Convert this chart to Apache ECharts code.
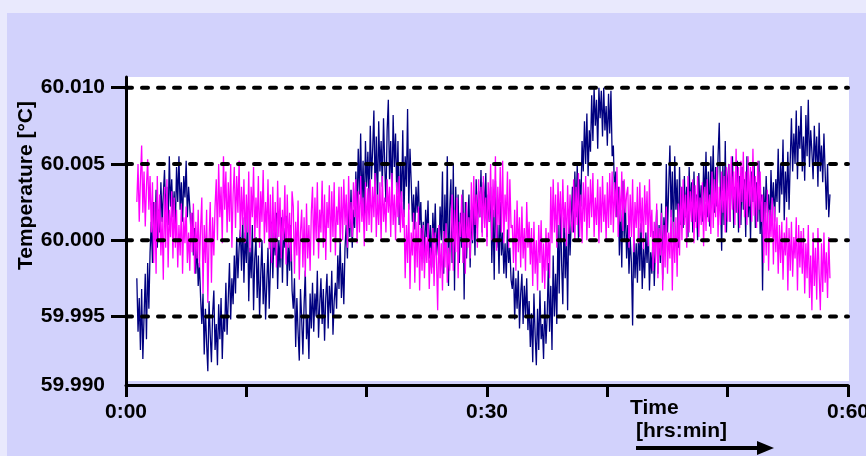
<!DOCTYPE html>
<html>
<head>
<meta charset="utf-8">
<script src="https://cdn.jsdelivr.net/npm/echarts@6/dist/echarts.min.js"></script>
<style>html,body{margin:0;padding:0;background:#e9e9fd;}#c{width:866px;height:456px;}</style>
</head>
<body>
<div id="c"></div>
<script>
// ---- data (time in minutes, temperature in °C) ----
const timeStart = 0.9;   // first sample time [min]
const timeStep = 0.1;    // sample spacing [min]
const xMin = 0, xMax = 60, xInterval = 10;
const xLabelTicks = [0, 30, 60];
const yGridValues = [59.995, 60.000, 60.005, 60.010];
const yLabelValues = [59.9905, 59.995, 60.000, 60.005, 60.010];
const yLabelText = ['59.990', '59.995', '60.000', '60.005', '60.010'];

const navy = [
59.9975,59.9940,59.9962,59.9928,59.9968,59.9922,59.9950,59.9978,59.9935,59.9985,59.9955,59.9992,
60.0012,59.9985,60.0025,60.0000,60.0033,59.9995,60.0020,60.0005,
60.0038,60.0012,60.0030,60.0046,60.0018,60.0035,60.0010,60.0055,60.0022,60.0040,60.0015,60.0032,60.0008,60.0048,60.0025,60.0055,60.0020,60.0038,60.0012,60.0042,60.0028,60.0052,60.0015,60.0035,
60.0022,60.0005,60.0018,59.9990,60.0008,59.9978,59.9998,59.9970,59.9985,59.9962,
59.9945,59.9965,59.9925,59.9955,59.9932,59.9914,59.9960,59.9938,59.9920,59.9952,59.9967,59.9928,59.9945,59.9918,59.9958,59.9935,59.9962,59.9922,59.9950,59.9940,
59.9972,59.9938,59.9962,59.9985,59.9948,59.9975,59.9958,59.9990,59.9965,60.0002,59.9975,59.9995,60.0007,59.9980,
60.0015,59.9972,60.0005,59.9985,60.0020,59.9960,59.9995,59.9975,60.0010,59.9954,59.9988,60.0002,
59.9962,59.9990,59.9950,59.9978,60.0000,59.9958,59.9985,59.9948,59.9972,59.9995,59.9955,59.9982,
60.0012,59.9975,60.0005,59.9990,60.0018,59.9968,60.0000,59.9982,60.0015,59.9972,60.0008,59.9995,60.0016,59.9970,59.9998,59.9980,60.0010,59.9967,
59.9955,59.9975,59.9930,59.9962,59.9940,59.9921,59.9968,59.9948,59.9925,59.9958,59.9980,59.9935,59.9950,59.9922,59.9965,59.9942,
59.9972,59.9940,59.9965,59.9950,59.9980,59.9936,59.9958,59.9975,59.9945,59.9968,59.9934,59.9962,59.9978,59.9942,59.9970,59.9952,59.9980,59.9938,59.9960,59.9972,
59.9955,59.9990,59.9968,60.0000,59.9962,59.9985,59.9958,59.9995,
60.0010,59.9988,60.0025,60.0002,60.0033,59.9995,60.0020,60.0008,
60.0045,60.0018,60.0060,60.0030,60.0070,60.0022,60.0052,60.0013,60.0065,60.0035,60.0058,60.0025,
60.0075,60.0040,60.0060,60.0085,60.0030,60.0068,60.0022,60.0078,60.0045,60.0065,
60.0035,60.0080,60.0050,60.0025,60.0072,60.0092,60.0040,60.0065,60.0028,60.0082,60.0048,60.0070,
60.0030,60.0065,60.0010,60.0050,60.0025,60.0072,60.0015,60.0055,60.0035,60.0086,60.0020,60.0060,
60.0038,60.0012,60.0030,60.0007,60.0035,60.0018,60.0039,60.0010,
60.0025,59.9992,60.0012,59.9985,60.0020,60.0002,60.0026,59.9988,60.0010,59.9982,60.0018,59.9998,60.0024,59.9990,60.0008,59.9985,60.0022,60.0000,
60.0045,59.9978,60.0030,59.9995,60.0055,59.9970,60.0020,60.0040,59.9985,60.0050,59.9967,60.0035,
60.0005,60.0030,59.9985,60.0018,59.9995,60.0033,59.9961,60.0025,59.9988,60.0012,60.0030,59.9982,60.0020,59.9998,60.0028,59.9990,
60.0040,60.0008,60.0032,60.0015,60.0046,60.0005,60.0038,60.0020,60.0044,60.0002,60.0030,60.0012,
60.0035,59.9985,60.0020,59.9974,60.0039,59.9995,60.0010,59.9978,60.0025,59.9990,
60.0005,59.9978,59.9998,59.9975,60.0007,59.9985,59.9995,59.9974,
59.9968,59.9982,59.9948,59.9975,59.9955,59.9980,59.9942,59.9965,59.9978,59.9945,59.9970,59.9950,59.9975,59.9941,
59.9960,59.9930,59.9952,59.9920,59.9965,59.9938,59.9918,59.9955,59.9928,59.9967,59.9935,59.9945,59.9922,59.9960,59.9932,59.9950,
59.9985,59.9940,59.9970,59.9928,59.9990,59.9950,59.9978,59.9945,
60.0010,59.9965,60.0024,59.9985,59.9958,60.0015,59.9975,60.0005,59.9954,60.0020,59.9990,60.0012,
60.0035,60.0005,60.0045,60.0015,60.0050,60.0000,60.0040,60.0022,
60.0065,60.0045,60.0078,60.0050,60.0083,60.0042,60.0072,60.0058,
60.0095,60.0065,60.0100,60.0075,60.0092,60.0060,60.0100,60.0080,60.0098,60.0068,60.0100,60.0072,60.0088,60.0062,60.0096,60.0070,
60.0098,60.0055,
60.0062,60.0030,60.0045,60.0015,
60.0035,59.9990,60.0020,59.9982,60.0039,60.0000,60.0025,59.9988,
60.0010,59.9978,60.0002,59.9985,59.9944,60.0008,59.9975,59.9998,
59.9972,60.0008,59.9980,60.0011,59.9968,59.9995,59.9975,60.0005,59.9985,60.0010,59.9967,59.9992,59.9978,60.0006,59.9970,59.9998,
60.0020,59.9978,60.0010,59.9985,60.0024,59.9974,60.0015,59.9995,
60.0050,60.0005,60.0035,60.0062,60.0015,60.0045,59.9998,60.0055,60.0020,60.0040,59.9995,60.0048,60.0010,60.0035,
60.0008,60.0042,60.0015,60.0035,60.0002,60.0048,60.0020,60.0038,60.0005,60.0045,60.0012,60.0030,60.0000,60.0044,60.0018,60.0036,
60.0012,60.0050,60.0025,60.0058,60.0015,60.0045,60.0009,60.0055,60.0030,60.0062,60.0018,60.0048,60.0022,60.0055,
60.0077,60.0030,59.9993,60.0050,60.0010,60.0065,60.0005,60.0040,
60.0050,60.0012,60.0040,60.0055,60.0008,60.0035,60.0018,60.0052,60.0005,60.0042,
60.0010,60.0048,60.0020,60.0040,60.0002,60.0055,60.0015,60.0035,60.0000,60.0045,60.0025,60.0050,60.0008,60.0038,60.0012,60.0052,60.0004,60.0030,
59.9967,60.0035,60.0010,60.0042,60.0018,60.0030,60.0007,60.0046,60.0020,60.0038,60.0012,60.0040,
60.0025,60.0060,60.0018,60.0050,60.0030,60.0066,60.0013,60.0045,60.0025,60.0058,60.0020,60.0052,
60.0080,60.0045,60.0070,60.0050,60.0085,60.0040,60.0075,60.0060,60.0088,60.0045,60.0068,60.0039,60.0082,60.0055,60.0092,60.0048,60.0072,60.0058,
60.0040,60.0075,60.0050,60.0068,60.0035,60.0077,60.0045,60.0062,60.0038,60.0070,
60.0045,60.0020,60.0050,60.0015,60.0030
];

const magenta = [
60.0025,60.0050,60.0012,60.0040,60.0062,60.0018,60.0045,60.0009,60.0035,60.0053,60.0020,60.0042,
60.0005,60.0038,59.9985,60.0025,59.9978,60.0042,60.0000,60.0030,59.9990,60.0015,59.9974,60.0035,59.9995,60.0040,59.9982,60.0020,60.0002,60.0032,59.9988,60.0028,
59.9995,60.0020,59.9982,60.0010,59.9990,60.0024,59.9978,60.0015,59.9998,60.0022,59.9985,60.0005,59.9980,60.0018,59.9992,60.0024,59.9978,60.0012,59.9988,60.0020,59.9982,60.0008,
60.0028,59.9965,60.0010,59.9985,60.0020,59.9959,60.0000,60.0025,59.9972,60.0015,59.9990,60.0022,
60.0040,60.0000,60.0050,60.0015,60.0035,59.9998,60.0055,60.0020,60.0045,60.0005,60.0038,60.0012,60.0050,59.9995,60.0030,60.0048,60.0008,60.0042,60.0018,60.0052,60.0002,60.0035,
60.0010,60.0040,59.9998,60.0030,60.0005,60.0045,59.9992,60.0035,60.0015,60.0048,60.0000,60.0028,60.0008,60.0042,59.9995,60.0032,60.0012,60.0046,59.9998,60.0025,60.0005,60.0040,59.9994,60.0030,
59.9985,60.0035,59.9995,60.0025,59.9982,60.0039,60.0002,60.0028,59.9988,60.0020,60.0000,60.0036,59.9984,60.0030,59.9995,60.0018,59.9986,60.0032,
60.0022,59.9978,60.0012,59.9990,60.0026,59.9974,60.0005,60.0020,59.9982,60.0015,59.9976,60.0024,59.9988,60.0010,59.9980,60.0018,
60.0035,59.9990,60.0028,60.0000,60.0038,59.9988,60.0020,60.0005,60.0039,59.9995,60.0030,59.9987,60.0025,60.0008,60.0036,59.9992,60.0032,60.0002,60.0038,59.9990,60.0022,60.0010,60.0035,59.9998,
60.0035,60.0000,60.0040,60.0010,60.0030,59.9995,60.0042,60.0008,60.0025,60.0002,60.0038,60.0015,60.0040,59.9998,60.0032,60.0005,60.0042,60.0012,60.0028,59.9996,60.0038,60.0006,60.0034,60.0010,
60.0040,60.0005,60.0035,60.0015,60.0044,60.0002,60.0030,60.0010,60.0038,60.0000,60.0042,60.0012,60.0028,60.0005,60.0040,60.0018,60.0035,60.0002,60.0044,60.0010,60.0030,60.0000,60.0038,60.0015,60.0042,60.0005,60.0032,60.0008,
60.0020,59.9975,60.0010,59.9985,60.0024,59.9968,60.0005,59.9990,60.0018,59.9972,60.0012,59.9982,60.0022,59.9967,60.0008,59.9980,
60.0010,59.9975,60.0002,59.9985,60.0011,59.9968,59.9995,59.9978,60.0008,59.9970,60.0005,59.9988,59.9954,60.0010,59.9975,59.9998,59.9967,60.0006,59.9982,60.0011,59.9972,59.9995,59.9980,60.0004,
60.0030,59.9980,60.0020,59.9992,60.0028,59.9975,60.0012,60.0002,60.0030,59.9985,60.0018,59.9978,60.0025,59.9995,60.0015,59.9988,
60.0038,60.0000,60.0042,60.0010,60.0030,59.9995,60.0040,60.0015,60.0035,60.0002,60.0042,60.0008,60.0028,59.9996,60.0038,60.0012,
60.0050,60.0000,60.0040,60.0015,60.0055,59.9993,60.0035,60.0010,60.0048,60.0005,60.0052,59.9998,60.0030,60.0012,60.0045,59.9995,60.0040,60.0008,
60.0010,59.9985,60.0020,59.9980,60.0026,59.9992,60.0015,59.9982,60.0022,59.9988,60.0008,59.9980,60.0025,59.9995,60.0012,59.9984,
60.0008,59.9970,60.0012,59.9978,60.0000,59.9967,60.0010,59.9985,60.0013,59.9972,59.9998,59.9968,60.0008,59.9980,60.0005,59.9975,
60.0035,59.9998,60.0040,60.0005,60.0030,59.9995,60.0038,60.0010,60.0032,60.0000,60.0040,60.0008,60.0025,59.9996,60.0036,60.0004,60.0030,60.0012,
60.0005,60.0040,60.0000,60.0035,60.0010,60.0044,60.0002,60.0030,59.9998,60.0038,60.0012,60.0042,60.0000,60.0035,60.0008,60.0040,60.0015,60.0044,60.0002,60.0028,60.0010,60.0040,59.9998,60.0035,60.0005,60.0042,60.0012,60.0030,60.0000,60.0038,60.0008,60.0044,
60.0010,60.0045,60.0005,60.0038,60.0015,60.0048,60.0002,60.0035,60.0012,60.0045,60.0006,60.0040,60.0018,60.0030,
60.0035,59.9995,60.0030,60.0002,60.0040,59.9992,60.0025,60.0008,60.0035,59.9998,60.0038,60.0005,60.0028,59.9994,60.0036,60.0010,60.0032,59.9996,60.0040,60.0002,
60.0020,59.9980,60.0012,59.9985,60.0024,59.9975,60.0008,59.9990,60.0018,59.9967,60.0010,59.9982,60.0022,59.9978,60.0005,59.9988,60.0020,59.9967,60.0012,59.9985,60.0015,59.9976,60.0024,59.9990,
60.0035,60.0000,60.0040,60.0010,60.0030,59.9995,60.0042,60.0005,60.0032,60.0012,60.0040,59.9998,60.0036,60.0008,60.0042,60.0002,60.0028,60.0010,60.0038,59.9996,60.0035,60.0006,60.0040,60.0012,60.0030,60.0004,
60.0045,60.0008,60.0040,60.0015,60.0048,60.0002,60.0035,60.0010,60.0045,60.0018,60.0042,60.0005,60.0048,60.0012,
60.0050,60.0012,60.0055,60.0020,60.0045,60.0010,60.0060,60.0018,60.0048,60.0008,60.0052,60.0025,60.0058,60.0015,60.0045,60.0010,60.0055,60.0022,60.0048,60.0012,60.0060,60.0016,60.0042,60.0008,60.0052,60.0020,60.0045,60.0012,
60.0030,59.9985,60.0025,59.9990,60.0033,59.9980,60.0020,60.0002,60.0028,59.9984,60.0022,59.9992,
60.0015,59.9978,60.0010,59.9985,60.0012,59.9974,60.0005,59.9990,60.0015,59.9967,60.0008,59.9980,60.0012,59.9976,60.0002,59.9988,60.0015,59.9967,60.0010,59.9982,60.0006,59.9978,
60.0008,59.9965,59.9998,59.9975,60.0010,59.9962,59.9990,59.9954,60.0005,59.9970,59.9995,59.9961,60.0008,59.9978,59.9954,59.9998,59.9966,60.0005,59.9972,59.9992,59.9962,60.0002,59.9975
];

const yMin = 59.9905, yMax = 60.0107;

const toPairs = arr => arr.map((v, i) => [timeStart + i * timeStep, v]);
const FONT = '"Liberation Sans", Arial, sans-serif';

const gridSeries = yGridValues.map(v => ({
  name: 'ref ' + v, type: 'line', data: [[xMin, v], [xMax, v]], showSymbol: false, symbol: 'none',
  silent: true, z: 10, clip: false,
  lineStyle: {color: '#000', width: 4, type: [6, 10], cap: 'round'}
}));

const chart = echarts.init(document.getElementById('c'), null, {renderer: 'canvas'});
chart.setOption({
  backgroundColor: '#e9e9fd',
  animation: false,
  grid: {left: 126, right: 18, top: 77, bottom: 71, outerBoundsMode: 'none', containLabel: false},
  xAxis: {
    type: 'value', min: xMin, max: xMax, interval: xInterval,
    axisLine: {show: true, lineStyle: {color: '#000', width: 3}},
    axisTick: {show: true, length: 12, lineStyle: {color: '#000', width: 3}},
    axisLabel: {
      color: '#000', fontSize: 21, fontWeight: 'bold', fontFamily: FONT, margin: 17,
      showMaxLabel: true, showMinLabel: true,
      formatter: v => xLabelTicks.indexOf(v) >= 0 ? '0:' + String(v).padStart(2, '0') : ''
    },
    splitLine: {show: false}
  },
  yAxis: {
    type: 'value', min: yMin, max: yMax,
    axisLine: {show: true, lineStyle: {color: '#000', width: 3}},
    axisTick: {show: true, length: 15, customValues: yGridValues, lineStyle: {color: '#000', width: 3}},
    axisLabel: {
      customValues: yLabelValues, showMinLabel: true, showMaxLabel: true,
      color: '#000', fontSize: 21, fontWeight: 'bold', fontFamily: FONT, margin: 21,
      formatter: v => {
        let best = 0;
        yLabelValues.forEach((u, k) => { if (Math.abs(u - v) < Math.abs(yLabelValues[best] - v)) best = k; });
        return yLabelText[best];
      }
    },
    splitLine: {show: false}
  },
  series: [
    {
      name: 'navy', type: 'line', data: toPairs(navy), showSymbol: false, symbol: 'none',
      lineStyle: {color: '#000080', width: 1.3}, z: 2, clip: true
    },
    {
      name: 'magenta', type: 'line', data: toPairs(magenta), showSymbol: false, symbol: 'none',
      lineStyle: {color: '#ff00ff', width: 1.3}, z: 3, clip: true
    }
  ].concat(gridSeries),
  graphic: [
    {type: 'rect', z: -10, silent: true, shape: {x: 7, y: 13, width: 859, height: 443}, style: {fill: '#d2d2fc'}},
    {type: 'rect', z: -9, silent: true, shape: {x: 126, y: 77, width: 723, height: 304}, style: {fill: '#ffffff'}},
    {type: 'text', x: 26, y: 185.5, rotation: Math.PI / 2,
      style: {text: 'Temperature [°C]', font: 'bold 21px ' + FONT, fill: '#000', align: 'center', verticalAlign: 'middle', textAlign: 'center', textVerticalAlign: 'middle'}},
    {type: 'text', x: 630, y: 408,
      style: {text: 'Time', font: 'bold 21px ' + FONT, fill: '#000', align: 'left', verticalAlign: 'middle', textAlign: 'left', textVerticalAlign: 'middle'}},
    {type: 'text', x: 636, y: 431,
      style: {text: '[hrs:min]', font: 'bold 21px ' + FONT, fill: '#000', align: 'left', verticalAlign: 'middle', textAlign: 'left', textVerticalAlign: 'middle'}},
    {type: 'line', shape: {x1: 636, y1: 448, x2: 760, y2: 448}, style: {stroke: '#000', lineWidth: 4}},
    {type: 'polygon', shape: {points: [[757, 441], [774, 448], [757, 455]]}, style: {fill: '#000'}}
  ]
});
</script>
</body>
</html>
